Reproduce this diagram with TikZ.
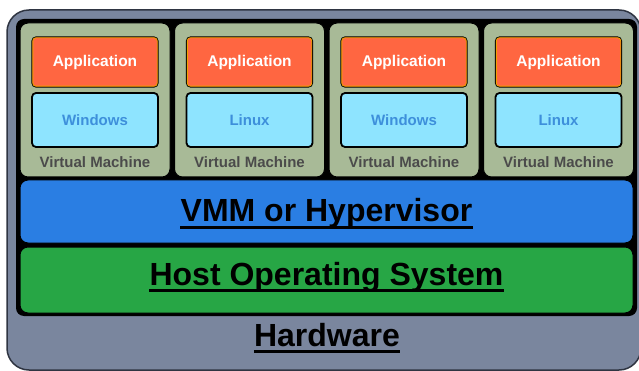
\documentclass[tikz,border=0pt]{standalone}
\usepackage{fontspec}
\setmainfont{Liberation Sans}

\definecolor{hwgray}{HTML}{7A869E}
\definecolor{hwedge}{HTML}{2F3542}
\definecolor{vmgreen}{HTML}{A8BA97}
\definecolor{appred}{HTML}{FF6641}
\definecolor{appedge}{HTML}{F2A000}
\definecolor{oscyan}{HTML}{8EE4FF}
\definecolor{ostext}{HTML}{3D8FDB}
\definecolor{vmtext}{HTML}{4B4B4B}
\definecolor{vmmblue}{HTML}{2A7EE3}
\definecolor{hostgreen}{HTML}{27A645}

\tikzset{
    vmbox/.style={draw=black, line width=1pt, fill=vmgreen, rounded corners=8pt,
        minimum width=150pt, minimum height=154pt, inner sep=0pt},
    appbox/.style={draw=black, line width=1.2pt, fill=appred, rounded corners=4pt,
        minimum width=126pt, minimum height=50pt, inner sep=0pt,
        text=white, font=\fontsize{15.5}{17}\selectfont\bfseries},
    osbox/.style={draw=black, line width=1.8pt, fill=oscyan, rounded corners=4pt,
        minimum width=126pt, minimum height=54pt, inner sep=0pt,
        text=ostext, font=\fontsize{15}{17}\selectfont\bfseries},
    vmlabel/.style={text=vmtext, inner sep=0pt, font=\fontsize{15}{17}\selectfont\bfseries},
    layer/.style={draw=black, line width=1pt, rounded corners=8pt,
        minimum width=613pt, inner sep=0pt},
    bigtext/.style={inner sep=0pt, anchor=base, font=\fontsize{32}{36}\selectfont\bfseries},
    ulline/.style={line width=2.1pt}
}

\begin{document}
\begin{tikzpicture}[x=1pt, y=-1pt]
    \useasboundingbox (0,0) rectangle (639,371);
    \clip (0,0) rectangle (639,371);

    % hardware shell and the black well that holds the layers
    \draw[fill=hwgray, draw=hwedge, line width=1.5pt, rounded corners=22pt]
        (7,10) rectangle (641,370);
    \fill[black, rounded corners=8pt] (16,19) rectangle (637,316);

    % four virtual machines side by side
    \foreach \i/\os in {0/Windows, 1/Linux, 2/Windows, 3/Linux}{%
        \pgfmathsetmacro{\cx}{95+154.5*\i}
        \node[vmbox] (vm\i) at (\cx,100) {};
        \node[appbox] (app\i) at (\cx,62) {Application};
        \draw[appedge, line width=0.9pt, rounded corners=3pt]
            ([shift={(1.4,1.4)}]app\i.north west) rectangle ([shift={(-1.4,-1.4)}]app\i.south east);
        \node[osbox] (os\i) at (\cx,120) {\os};
        \node[vmlabel] (vmlab\i) at (\cx,162) {Virtual Machine};
    }

    % hypervisor and host OS bands
    \node[layer, fill=vmmblue, minimum height=63pt] (vmm) at (326.5,211.5) {};
    \node[layer, fill=hostgreen, minimum height=66pt] (host) at (326.5,280) {};

    % underlined layer names
    \node[bigtext] (vmmtext) at (326.5,222) {VMM or Hypervisor};
    \node[bigtext] (hosttext) at (326.5,285) {Host Operating System};
    \node[bigtext] (hwtext) at (327,346) {Hardware};
    \foreach \t in {vmmtext, hosttext, hwtext}
        \draw[ulline] ([yshift=-5.5pt]\t.base west) -- ([yshift=-5.5pt]\t.base east);
\end{tikzpicture}
\end{document}
